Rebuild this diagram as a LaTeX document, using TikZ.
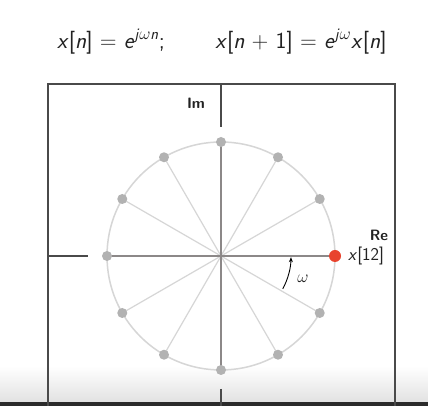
\documentclass[tikz,border=0pt]{standalone}
\usetikzlibrary{arrows.meta}
\definecolor{boxc}{HTML}{4A4A4A}
\definecolor{diam}{HTML}{8C8888}
\definecolor{spoke}{HTML}{D6D6D6}
\definecolor{dotc}{HTML}{B2B2B2}
\definecolor{redc}{HTML}{E8432E}
\definecolor{fade}{HTML}{E2E2E2}
\definecolor{barc}{HTML}{2B2B2B}
\definecolor{txt}{HTML}{222222}
\newcommand{\vi}[1]{\textit{#1}}
\begin{document}
\begin{tikzpicture}[x=1pt,y=1pt,
  frame/.style={draw=boxc,line width=2.2pt},
  axisdark/.style={draw=boxc,line width=2pt},
  diameter/.style={draw=diam,line width=1.8pt},
  spokeline/.style={draw=spoke,line width=1.2pt},
  rimline/.style={draw=spoke,line width=1.5pt},
  gdot/.style={circle,fill=dotc,inner sep=0pt,minimum size=10pt},
  rdot/.style={circle,fill=redc,inner sep=0pt,minimum size=12pt},
  title/.style={font=\sffamily\fontsize{23}{26}\selectfont,text=txt,anchor=base,inner sep=0pt},
  lab/.style={font=\sffamily\fontsize{18}{20}\selectfont,text=txt,inner sep=1pt},
  axlab/.style={font=\sffamily\bfseries\fontsize{15}{17}\selectfont,text=txt,inner sep=0pt}]
\useasboundingbox (0,0) rectangle (428,406);
\fill[white] (0,0) rectangle (428,406);
% bottom fade and bar
\shade[top color=white,bottom color=fade] (0,4) rectangle (428,40);
\fill[barc] (0,0) rectangle (428,4);
% title
\node[title] (t1) at (111,357) {\vi{x}[\vi{n}] = \vi{e}\textsuperscript{\vi{j}$\omega$\vi{n}};};
\node[title] (t2) at (301,357) {\vi{x}[\vi{n} + 1] = \vi{e}\textsuperscript{\vi{j}$\omega$}\vi{x}[\vi{n}]};
% frame
\draw[frame] (48,-5) -- (48,322) -- (395,322) -- (395,-5);
% center and circle
\coordinate (O) at (221,150);
\draw[rimline] (O) circle (114);
\foreach \a in {30,60,120,150,210,240,300,330}
  \draw[spokeline] (O) -- ++(\a:114);
% axes
\coordinate (topA) at (221,322);
\coordinate (topB) at (221,279);
\coordinate (botA) at (221,17);
\coordinate (botB) at (221,-5);
\coordinate (leftA) at (48,150);
\coordinate (leftB) at (88,150);
\draw[axisdark] (topA) -- (topB);
\draw[axisdark] (botA) -- (botB);
\draw[axisdark] (leftA) -- (leftB);
\draw[diameter] (221,36) -- (221,264);
\draw[diameter] (107,150) -- (335,150);
\foreach \a in {30,60,90,120,150,180,210,240,270,300,330}
  \node[gdot] (p\a) at ([shift={(\a:114)}]O) {};
\node[rdot] (p0) at ([shift={(0:114)}]O) {};
% labels
\node[axlab] (im) at (196,303) {Im};
\node[axlab] (re) at (379,171) {Re};
\node[lab,fill=white,anchor=west,inner sep=1pt] (x12) at (347,150) {\vi{x}[12]};
% omega arc
\draw[black,line width=0.9pt,-{Stealth[length=5pt,width=4pt]}] ([shift={(-28:70)}]O) arc (-28:-1:70);
\node[lab] (w) at (303,127) {$\omega$};
\end{tikzpicture}
\end{document}
